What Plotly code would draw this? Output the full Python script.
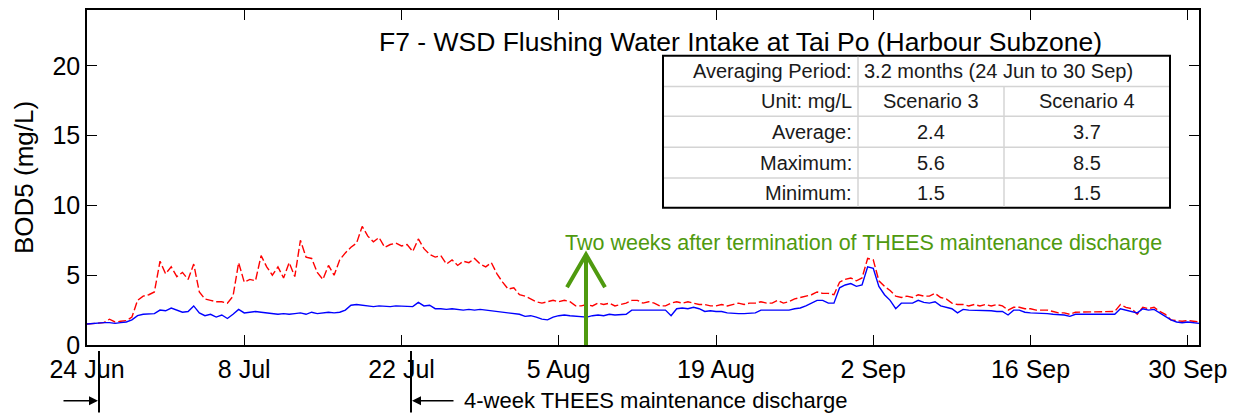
import pandas as pd
import plotly.graph_objects as go

# ---------------------------------------------------------------
# BOD5 at F7 - WSD Flushing Water Intake at Tai Po, 12-hourly values
# ---------------------------------------------------------------
start_time = "2023-06-24 00:00"

scenario4_bod5 = [
    1.5, 1.55, 1.55, 1.6, 1.85, 1.65, 1.7, 1.75, 2.0, 3.2,
    3.5, 3.6, 3.8, 6.0, 5.1, 5.6, 4.9, 5.2, 4.7, 5.8,
    3.8, 3.3, 3.2, 3.1, 3.1, 3.0, 3.5, 5.9, 4.5, 4.7,
    4.6, 6.4, 5.6, 5.0, 5.6, 4.8, 5.9, 4.9, 7.5, 6.3,
    6.2, 5.2, 4.7, 5.7, 5.0, 6.1, 6.6, 7.0, 7.3, 8.5,
    7.8, 7.4, 7.7, 7.0, 7.2, 7.3, 7.1, 7.2, 6.7, 7.6,
    6.9, 6.5, 6.3, 6.4, 5.8, 6.1, 5.7, 6.0, 5.9, 6.2,
    5.8, 5.6, 5.9, 5.1, 4.5, 4.0, 4.1, 3.6, 3.5, 3.3,
    3.1, 3.0, 3.1, 3.2, 3.1, 3.2, 3.1, 2.8, 2.8, 2.9,
    2.8, 3.0, 2.9, 3.0, 2.8, 2.9, 3.0, 3.2, 3.2, 3.0,
    3.1, 3.0, 2.8, 2.8, 3.0, 3.1, 3.0, 3.1, 3.0, 2.9,
    2.9, 2.8, 2.8, 2.9, 2.8, 2.9, 3.0, 2.9, 3.0, 3.0,
    3.1, 3.0, 3.0, 3.2, 3.0, 3.1, 3.3, 3.4, 3.5, 3.6,
    3.8, 3.7, 3.7, 3.6, 4.5, 4.7, 4.8, 4.6, 4.8, 6.2,
    6.1, 4.6, 4.2, 3.9, 3.5, 3.4, 3.5, 3.4, 3.6, 3.5,
    3.5, 3.7, 3.4, 3.3, 3.0, 2.9, 2.9, 2.8, 2.9, 2.8,
    2.9, 2.8, 2.9, 2.8, 2.5, 2.7, 2.7, 2.6, 2.6, 2.5,
    2.5, 2.5, 2.4, 2.3, 2.3, 2.2, 2.35, 2.35, 2.35, 2.35,
    2.35, 2.35, 2.35, 2.4, 2.9, 2.7, 2.6, 2.2, 2.7, 2.6,
    2.7, 2.4, 2.2, 1.8, 1.75, 1.7, 1.75, 1.7, 1.65,
]

scenario3_bod5 = [
    1.5, 1.55, 1.6, 1.6, 1.6, 1.55, 1.6, 1.65, 1.8, 2.1,
    2.2, 2.2, 2.25, 2.5, 2.45, 2.65, 2.5, 2.35, 2.4, 2.8,
    2.3, 2.1, 2.2, 2.0, 2.15, 1.9, 2.2, 2.55, 2.3, 2.35,
    2.4, 2.35, 2.3, 2.2, 2.2, 2.25, 2.2, 2.25, 2.3, 2.2,
    2.35, 2.25, 2.3, 2.35, 2.3, 2.35, 2.5, 2.85, 2.9, 2.85,
    2.75, 2.75, 2.8, 2.75, 2.75, 2.8, 2.8, 2.8, 2.75, 3.05,
    2.8, 2.85, 2.6, 2.6, 2.55, 2.6, 2.55, 2.5, 2.55, 2.5,
    2.55, 2.5, 2.45, 2.4, 2.35, 2.3, 2.25, 2.2, 2.05, 2.1,
    2.0, 1.85, 1.8, 2.0, 2.1, 2.15, 2.1, 2.05, 2.0, 2.0,
    2.1, 2.15, 2.1, 2.2, 2.15, 2.2, 2.2, 2.5, 2.5, 2.5,
    2.5, 2.5, 2.5, 2.5, 2.1, 2.6, 2.65, 2.6, 2.7, 2.6,
    2.4, 2.45, 2.4, 2.4, 2.3, 2.25, 2.25, 2.25, 2.25, 2.3,
    2.5, 2.5, 2.45, 2.5, 2.5, 2.5, 2.6, 2.65, 2.8, 3.0,
    3.2, 3.2, 3.0, 3.0, 4.1, 4.3, 4.4, 4.2, 4.3, 5.6,
    5.5, 4.2, 3.6, 3.2, 2.6, 3.0, 3.0, 3.0, 3.2, 3.05,
    3.0, 3.1, 2.8, 2.7, 2.6, 2.3, 2.55, 2.5, 2.5, 2.45,
    2.5, 2.45, 2.4, 2.4, 2.15, 2.5, 2.5, 2.35, 2.3, 2.3,
    2.25, 2.25, 2.2, 2.2, 2.15, 2.05, 2.2, 2.2, 2.2, 2.2,
    2.2, 2.2, 2.2, 2.2, 2.6, 2.5, 2.4, 2.3, 2.6, 2.5,
    2.55, 2.3, 2.1, 1.8, 1.65, 1.6, 1.65, 1.6, 1.55,
]

tick_dates = ["2023-06-24", "2023-07-08", "2023-07-22", "2023-08-05",
              "2023-08-19", "2023-09-02", "2023-09-16", "2023-09-30"]
tick_labels = ["24 Jun", "8 Jul", "22 Jul", "5 Aug", "19 Aug", "2 Sep", "16 Sep", "30 Sep"]
y_ticks = [0, 5, 10, 15, 20]

# summary table
table_period = ["Averaging Period:", "3.2 months (24 Jun to 30 Sep)"]
table_header = ["Unit: mg/L", "Scenario 3", "Scenario 4"]
stat_names = ["Average:", "Maximum:", "Minimum:"]
stat_scenario3 = ["2.4", "5.6", "1.5"]
stat_scenario4 = ["3.7", "8.5", "1.5"]

chart_title = "F7 - WSD Flushing Water Intake at Tai Po (Harbour Subzone)"
y_title = "BOD5 (mg/L)"
green_note = "Two weeks after termination of THEES maintenance discharge"
discharge_note = "4-week THEES maintenance discharge"

times = pd.date_range(start_time, periods=len(scenario4_bod5), freq="12h")

# ---------------------------------------------------------------
W, H = 1240, 419
ML, MR, MT, MB = 87, 41, 8, 74
PW, PH = W - ML - MR, H - MT - MB
FONT = "Liberation Sans, Arial, sans-serif"
GREEN = "#4f9a0f"


def fx(p):
    """pixel column -> paper x"""
    return (p - ML) / PW


def fy(p):
    """pixel row -> paper y"""
    return (H - MB - p) / PH


fig = go.Figure()
fig.add_trace(go.Scatter(x=times, y=scenario4_bod5, mode="lines", name="Scenario 4",
                         line=dict(color="#ff0000", width=1.4, dash="8px,3px")))
fig.add_trace(go.Scatter(x=times, y=scenario3_bod5, mode="lines", name="Scenario 3",
                         line=dict(color="#0000ff", width=1.4)))

shapes = []
annotations = []

# ---- summary table ----
tl, tr = 663, 1170
rows = [54, 85, 115, 146, 177, 207]
c1, c2 = 858, 1004
shapes.append(dict(type="rect", xref="paper", yref="paper", x0=fx(tl), x1=fx(tr),
                   y0=fy(rows[-1]), y1=fy(rows[0]), fillcolor="white",
                   line=dict(color="black", width=2), layer="above"))
for r in rows[1:-1]:
    shapes.append(dict(type="line", xref="paper", yref="paper", x0=fx(tl + 1), x1=fx(tr - 1),
                       y0=fy(r), y1=fy(r), line=dict(color="#d4d4d4", width=1.5)))
shapes.append(dict(type="line", xref="paper", yref="paper", x0=fx(c1), x1=fx(c1),
                   y0=fy(rows[0] + 1), y1=fy(rows[-1] - 1), line=dict(color="#d4d4d4", width=1.5)))
shapes.append(dict(type="line", xref="paper", yref="paper", x0=fx(c2), x1=fx(c2),
                   y0=fy(rows[1]), y1=fy(rows[-1] - 1), line=dict(color="#d4d4d4", width=1.5)))

tfont = dict(family=FONT, size=20, color="#1a1a1a")


def cell(text, xp, row, anchor):
    yc = (rows[row] + rows[row + 1]) / 2
    annotations.append(dict(text=text, xref="paper", yref="paper", x=fx(xp), y=fy(yc),
                            xanchor=anchor, yanchor="middle", showarrow=False, font=tfont))


cell(table_period[0], c1 - 4, 0, "right")
cell(table_period[1], c1 + 4, 0, "left")
cell(table_header[0], c1 - 4, 1, "right")
cell(table_header[1], (c1 + c2) / 2, 1, "center")
cell(table_header[2], (c2 + tr) / 2, 1, "center")
for i, name in enumerate(stat_names):
    cell(name, c1 - 4, i + 2, "right")
    cell(stat_scenario3[i], (c1 + c2) / 2, i + 2, "center")
    cell(stat_scenario4[i], (c2 + tr) / 2, i + 2, "center")

# ---- title and axis title ----
annotations.append(dict(text=chart_title, xref="paper", yref="paper", x=fx(740), y=fy(40),
                        xanchor="center", yanchor="middle", showarrow=False,
                        font=dict(family=FONT, size=26.5, color="black")))
annotations.append(dict(text=y_title, xref="paper", yref="paper", x=fx(24), y=fy(177),
                        xanchor="center", yanchor="middle", showarrow=False, textangle=-90,
                        font=dict(family=FONT, size=26, color="black")))

# ---- green marker: two weeks after termination ----
shapes.append(dict(type="line", xref="paper", yref="paper", x0=fx(586), x1=fx(586),
                   y0=fy(345), y1=fy(255), line=dict(color=GREEN, width=4)))
shapes.append(dict(type="path", xref="paper", yref="paper",
                   path=f"M {fx(567)},{fy(287)} L {fx(586)},{fy(254)} L {fx(605)},{fy(287)}",
                   line=dict(color=GREEN, width=4)))
annotations.append(dict(text=green_note, xref="paper", yref="paper", x=fx(563), y=fy(242),
                        xanchor="left", yanchor="middle", showarrow=False,
                        font=dict(family=FONT, size=21.5, color=GREEN)))

# ---- discharge period markers below the axis ----
for xp in (99, 411):
    shapes.append(dict(type="line", xref="paper", yref="paper", x0=fx(xp), x1=fx(xp),
                       y0=fy(351), y1=fy(413), line=dict(color="black", width=2)))
annotations.append(dict(text="", xref="paper", yref="paper", x=fx(98), y=fy(401),
                        ax=-36, ay=0, showarrow=True, arrowhead=2, arrowsize=1.2,
                        arrowwidth=1.5, arrowcolor="black"))
annotations.append(dict(text="", xref="paper", yref="paper", x=fx(412), y=fy(401),
                        ax=43, ay=0, showarrow=True, arrowhead=2, arrowsize=1.2,
                        arrowwidth=1.5, arrowcolor="black"))
annotations.append(dict(text=discharge_note, xref="paper", yref="paper", x=fx(462), y=fy(401),
                        xanchor="left", yanchor="middle", showarrow=False,
                        font=dict(family=FONT, size=22, color="black")))

fig.update_layout(
    width=W, height=H,
    margin=dict(l=ML, r=MR, t=MT, b=MB, pad=0),
    paper_bgcolor="white", plot_bgcolor="white",
    showlegend=False,
    font=dict(family=FONT, size=25, color="black"),
    shapes=shapes, annotations=annotations,
    xaxis=dict(type="date", range=["2023-06-24", "2023-10-01"],
               tickvals=tick_dates, ticktext=tick_labels,
               ticks="inside", ticklen=10, tickwidth=1.2, tickcolor="black",
               showline=True, linecolor="black", linewidth=1.5, mirror="ticks",
               showgrid=False, zeroline=False, ticklabelstandoff=1,
               tickfont=dict(family=FONT, size=25, color="black")),
    yaxis=dict(range=[0, 24], tickvals=y_ticks,
               ticks="inside", ticklen=10, tickwidth=1.2, tickcolor="black",
               showline=True, linecolor="black", linewidth=1.5, mirror="ticks",
               showgrid=False, zeroline=False,
               tickfont=dict(family=FONT, size=25, color="black")),
)

fig.write_html("out.html")
